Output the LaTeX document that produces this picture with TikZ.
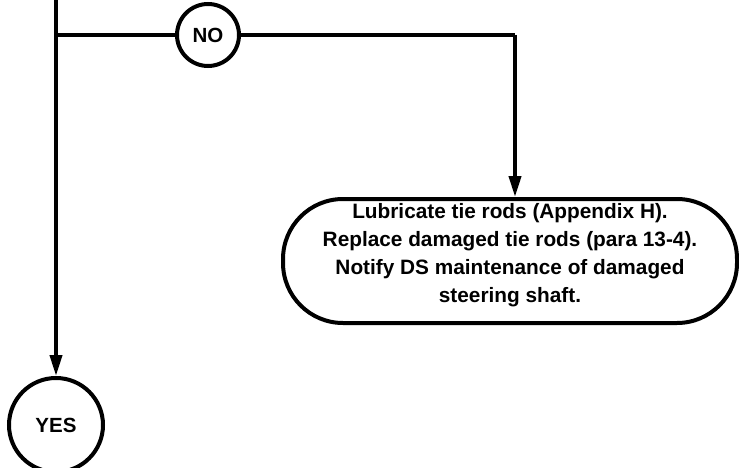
\documentclass[tikz,border=0pt]{standalone}
\usepackage{fontspec}
\setmainfont{Liberation Sans}
\usetikzlibrary{arrows.meta}
\begin{document}
\begin{tikzpicture}[x=1pt,y=1pt,
  conn/.style={line width=4pt},
  arr/.style={line width=4pt,-{Triangle[length=21pt,width=12pt]}},
  term/.style={circle,draw,line width=4pt,inner sep=0pt,font=\fontsize{20.5}{24}\selectfont\bfseries},
  action/.style={rectangle,rounded corners=60pt,draw,line width=4pt,inner sep=0pt,
    minimum width=454pt,minimum height=122pt,font=\fontsize{20.8}{28}\selectfont\bfseries}]
\useasboundingbox (0,0) rectangle (739,-468);
\node[term,minimum size=62pt] (no) at (208,-35) {NO};
\node[term,minimum size=94pt] (yes) at (56,-425) {YES};
\node[action] (act) at (510,-261) {\raisebox{0pt}[\height][\dimexpr\depth+12pt\relax]{\begin{tabular}{@{}c@{}}Lubricate tie rods (Appendix H).\\Replace damaged tie rods (para 13-4).\\Notify DS maintenance of damaged\\steering shaft.\end{tabular}}};
\coordinate (top) at (56,0);
\coordinate (junc) at (56,-35);
\coordinate (corner) at (515,-35);
\draw[arr] (top) -- (yes);
\draw[conn] (junc) -- (no);
\draw[conn] (no) -- (corner);
\draw[arr] (corner) -- (corner |- act.north);
\end{tikzpicture}
\end{document}
